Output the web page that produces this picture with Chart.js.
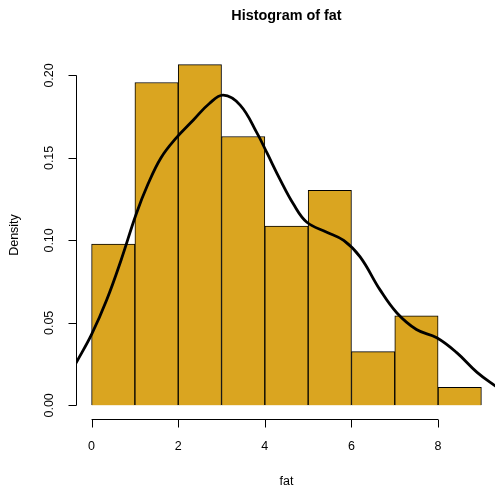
<!DOCTYPE html>
<html lang="en">
<head>
  <meta charset="UTF-8">
  <title>Histogram of fat</title>
  <script src="https://cdn.jsdelivr.net/npm/chart.js"></script>
  <style>
    body {
      margin: 0;
      background: #fff;
    }
    #wrap {
      width: 495px;
      height: 488px;
      overflow: hidden;
      position: relative;
    }
    canvas {
      display: block;
    }
  </style>
</head>
<body>
  <div id="wrap">
    <canvas id="hist" width="504" height="504"></canvas>
  </div>

  <script>
    // histogram bins (width 1) and their densities
    const binMids = [0.5, 1.5, 2.5, 3.5, 4.5, 5.5, 6.5, 7.5, 8.5];
    const densities = [0.0978, 0.1957, 0.2065, 0.1630, 0.1087, 0.1304, 0.0326, 0.0543, 0.0109];

    // kernel density curve
    const curveX = [-0.36, 0, 0.35, 0.68, 1.03, 1.3, 1.6, 1.95, 2.35, 2.72, 3.04, 3.43, 3.82, 4.05,
                    4.35, 4.66, 4.97, 5.43, 5.82, 6.2, 6.66, 7.05, 7.5, 7.97, 8.43, 8.9, 9.36];
    const curveY = [0.0256, 0.043, 0.064, 0.088, 0.116, 0.134, 0.150, 0.162, 0.173, 0.183, 0.188,
                    0.182, 0.165, 0.153, 0.137, 0.122, 0.111, 0.105, 0.100, 0.090, 0.070, 0.056,
                    0.046, 0.041, 0.032, 0.020, 0.011];

    const xTicks = [0, 2, 4, 6, 8];
    const yTicks = [0, 0.05, 0.10, 0.15, 0.20];
    const yTickLabels = ["0.00", "0.05", "0.10", "0.15", "0.20"];

    const FONT = "Liberation Sans, Arial, Helvetica, sans-serif";

    // R style axes and labels
    const rAxes = {
      id: "rAxes",
      afterDraw(chart) {
        const ctx = chart.ctx;
        const xs = chart.scales.x, ys = chart.scales.y;
        const area = chart.chartArea;
        const cx = (area.left + area.right) / 2;
        ctx.save();
        ctx.strokeStyle = "#000";
        ctx.lineWidth = 1;
        ctx.fillStyle = "#000";

        // x axis
        const xa = Math.round(area.bottom) + 0.5;
        ctx.beginPath();
        ctx.moveTo(xs.getPixelForValue(xTicks[0]), xa);
        ctx.lineTo(xs.getPixelForValue(xTicks[xTicks.length - 1]), xa);
        xTicks.forEach(t => {
          const p = Math.round(xs.getPixelForValue(t)) + 0.5;
          ctx.moveTo(p, xa);
          ctx.lineTo(p, xa + 8);
        });
        ctx.stroke();
        ctx.font = "12.5px " + FONT;
        ctx.textAlign = "center";
        ctx.textBaseline = "middle";
        xTicks.forEach(t => ctx.fillText(String(t), xs.getPixelForValue(t), 447));

        // y axis
        const ya = Math.round(area.left) + 0.5;
        ctx.beginPath();
        ctx.moveTo(ya, ys.getPixelForValue(yTicks[0]));
        ctx.lineTo(ya, ys.getPixelForValue(yTicks[yTicks.length - 1]));
        yTicks.forEach(t => {
          const p = Math.round(ys.getPixelForValue(t)) + 0.5;
          ctx.moveTo(ya, p);
          ctx.lineTo(ya - 8, p);
        });
        ctx.stroke();
        yTicks.forEach((t, i) => {
          ctx.save();
          ctx.translate(50, ys.getPixelForValue(t));
          ctx.rotate(-Math.PI / 2);
          ctx.fillText(yTickLabels[i], 0, 0);
          ctx.restore();
        });

        // axis titles
        ctx.fillText("fat", cx, 482);
        ctx.save();
        ctx.translate(15, (area.top + area.bottom) / 2);
        ctx.rotate(-Math.PI / 2);
        ctx.fillText("Density", 0, 0);
        ctx.restore();

        // main title
        ctx.font = "bold 14.4px " + FONT;
        ctx.fillText("Histogram of fat", cx, 16);
        ctx.restore();
      }
    };

    new Chart(document.getElementById("hist"), {
      type: "bar",
      data: {
        datasets: [
          {
            type: "line",
            label: "density",
            data: curveX.map((x, i) => ({ x: x, y: curveY[i] })),
            borderColor: "#000",
            borderWidth: 2.8,
            pointRadius: 0,
            tension: 0.4,
            fill: false,
            clip: 0,
            order: 0
          },
          {
            label: "fat",
            data: binMids.map((x, i) => ({ x: x, y: densities[i] })),
            backgroundColor: "#DAA520",
            borderColor: "#000",
            borderWidth: 1,
            barPercentage: 1,
            categoryPercentage: 1,
            order: 1
          }
        ]
      },
      options: {
        responsive: false,
        animation: false,
        layout: { padding: { left: 76, top: 51, right: 7, bottom: 85 } },
        plugins: {
          legend: { display: false },
          tooltip: { enabled: false }
        },
        scales: {
          x: { type: "linear", min: -0.36, max: 9.36, offset: false, display: false },
          y: { min: -0.00826, max: 0.2148, display: false }
        }
      },
      plugins: [rAxes]
    });
  </script>
</body>
</html>
